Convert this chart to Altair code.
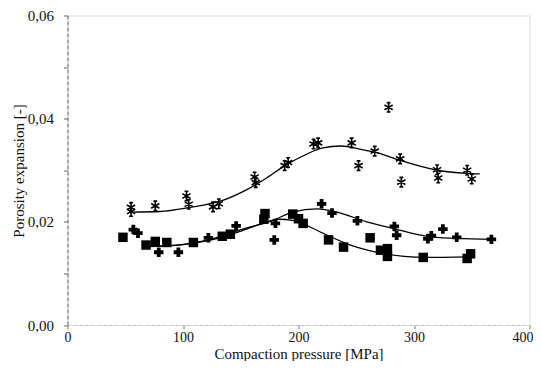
import altair as alt
import pandas as pd

# Measured points
star_x = [55, 55, 76, 103, 105, 126, 131, 162, 163, 188, 191, 213, 217, 246, 252, 266, 278, 288, 289, 320, 321, 346, 350]
star_y = [0.0228, 0.0220, 0.0231, 0.0250, 0.0234, 0.0229, 0.0235, 0.0287, 0.0276, 0.0309, 0.0315, 0.0351, 0.0353, 0.0353, 0.0309, 0.0337, 0.0422, 0.0322, 0.0277, 0.0301, 0.0285, 0.0300, 0.0283]

plus_x = [57, 61, 79, 96, 122, 146, 180, 179, 220, 229, 251, 283, 285, 312, 315, 325, 337, 367]
plus_y = [0.0185, 0.0178, 0.0141, 0.0141, 0.0169, 0.0192, 0.0197, 0.0165, 0.0235, 0.0217, 0.0202, 0.0191, 0.0174, 0.0167, 0.0173, 0.0186, 0.0170, 0.0166]

sq_x = [48, 68, 76, 86, 109, 134, 141, 170, 171, 195, 200, 204, 226, 239, 262, 271, 277, 277, 308, 346, 349]
sq_y = [0.0170, 0.0155, 0.0162, 0.0160, 0.0160, 0.0172, 0.0176, 0.0205, 0.0216, 0.0215, 0.0206, 0.0197, 0.0165, 0.0151, 0.0169, 0.0145, 0.0148, 0.0133, 0.0131, 0.0129, 0.0138]

# Fitted curves
star_cx = [55, 80, 106, 135, 154, 171, 189, 206, 220, 237, 253, 268, 288, 320, 346, 357]
star_cy = [0.0219, 0.0220, 0.0228, 0.0242, 0.0261, 0.0283, 0.0310, 0.0330, 0.0343, 0.0347, 0.0341, 0.0334, 0.0319, 0.0300, 0.0294, 0.0293]

plus_cx = [68, 95, 120, 149, 178, 195, 216, 233, 259, 282, 311, 337, 368]
plus_cy = [0.0153, 0.0155, 0.0164, 0.0184, 0.0203, 0.0219, 0.0225, 0.0219, 0.0200, 0.0187, 0.0172, 0.0168, 0.0166]

sq_cx = [68, 100, 130, 150, 170, 183, 195, 210, 222, 245, 273, 308, 348]
sq_cy = [0.0152, 0.0156, 0.0168, 0.0182, 0.0198, 0.0205, 0.0203, 0.0190, 0.0177, 0.0155, 0.0139, 0.0131, 0.0132]

y_ticks = [0.0, 0.01, 0.02, 0.03, 0.04, 0.05, 0.06]
x_ticks = [0, 100, 200, 300, 400]

FONT = "'Liberation Serif', 'Times New Roman', 'DejaVu Serif', serif"

star_df = pd.DataFrame({"x": star_x, "y": star_y})
plus_df = pd.DataFrame({"x": plus_x, "y": plus_y})
sq_df = pd.DataFrame({"x": sq_x, "y": sq_y})
star_c = pd.DataFrame({"x": star_cx, "y": star_cy})
plus_c = pd.DataFrame({"x": plus_cx, "y": plus_cy})
sq_c = pd.DataFrame({"x": sq_cx, "y": sq_cy})

xscale = alt.Scale(domain=[0, 400], nice=False, zero=False)
yscale = alt.Scale(domain=[0, 0.06], nice=False, zero=False)

xaxis = alt.Axis(
    values=x_ticks, title="Compaction pressure [MPa]", grid=False,
    labelFont=FONT, labelFontSize=14, labelColor="#111", titleFont=FONT,
    titleFontSize=15, titleFontWeight="normal", titleColor="#111",
    domainColor="#bbb", domainDash=[2, 4], domainWidth=1,
    tickColor="#777", tickSize=4, labelPadding=1,
    labelAlign={"condition": {"test": "datum.value == 400", "value": "right"}, "value": "center"},
    labelOffset={"condition": {"test": "datum.value == 400", "value": 3.5}, "value": 0},
    titleY=33, titleBaseline="alphabetic", labelFlush=False,
)
yaxis = alt.Axis(
    values=y_ticks, title="Porosity expansion [-]", grid=False,
    labelExpr="round(datum.value*100) % 2 == 1 ? '' : replace(format(datum.value, '.2f'), '.', ',')",
    labelFont=FONT, labelFontSize=15, labelColor="#111", titleFont=FONT,
    titleFontSize=15, titleFontWeight="normal", titleColor="#111",
    domainColor="#666", domainDash=[4, 2], domainWidth=1,
    tickColor="#666", tickSize=4, labelPadding=10,
    titleX=-44, titleY=155, titleAngle=-90, titleAlign="center",
    titleBaseline="alphabetic", labelFlush=False,
)

def pts(df, **mk):
    return alt.Chart(df).mark_point(**mk).encode(
        x=alt.X("x:Q", scale=xscale, axis=xaxis),
        y=alt.Y("y:Q", scale=yscale, axis=yaxis),
    )

def curve(df):
    return alt.Chart(df).mark_line(color="black", strokeWidth=1.3, interpolate="monotone").encode(
        x=alt.X("x:Q", scale=xscale, axis=xaxis),
        y=alt.Y("y:Q", scale=yscale, axis=yaxis),
    )

ast = "M0,-1L0,1M-0.87,-0.5L0.87,0.5M-0.87,0.5L0.87,-0.5M-0.4,-1L0.4,-1M-0.4,1L0.4,1"

chart = alt.layer(
    curve(star_c), curve(plus_c), curve(sq_c),
    pts(sq_df, shape="square", filled=True, color="black", size=90, opacity=1),
    pts(plus_df, shape="cross", filled=True, color="black", size=90, opacity=1),
    pts(star_df, shape=ast, filled=False, color="black", size=90, strokeWidth=1.6, opacity=1),
).properties(
    width=462, height=309.5,
    autosize=alt.AutoSizeParams(type="none"),
    padding={"left": 59.5, "top": 7.5, "right": 3.5, "bottom": 36},
).configure_view(stroke=None).configure(background="white")

chart.save("out.html", embed_options={"renderer": "svg", "actions": False})
